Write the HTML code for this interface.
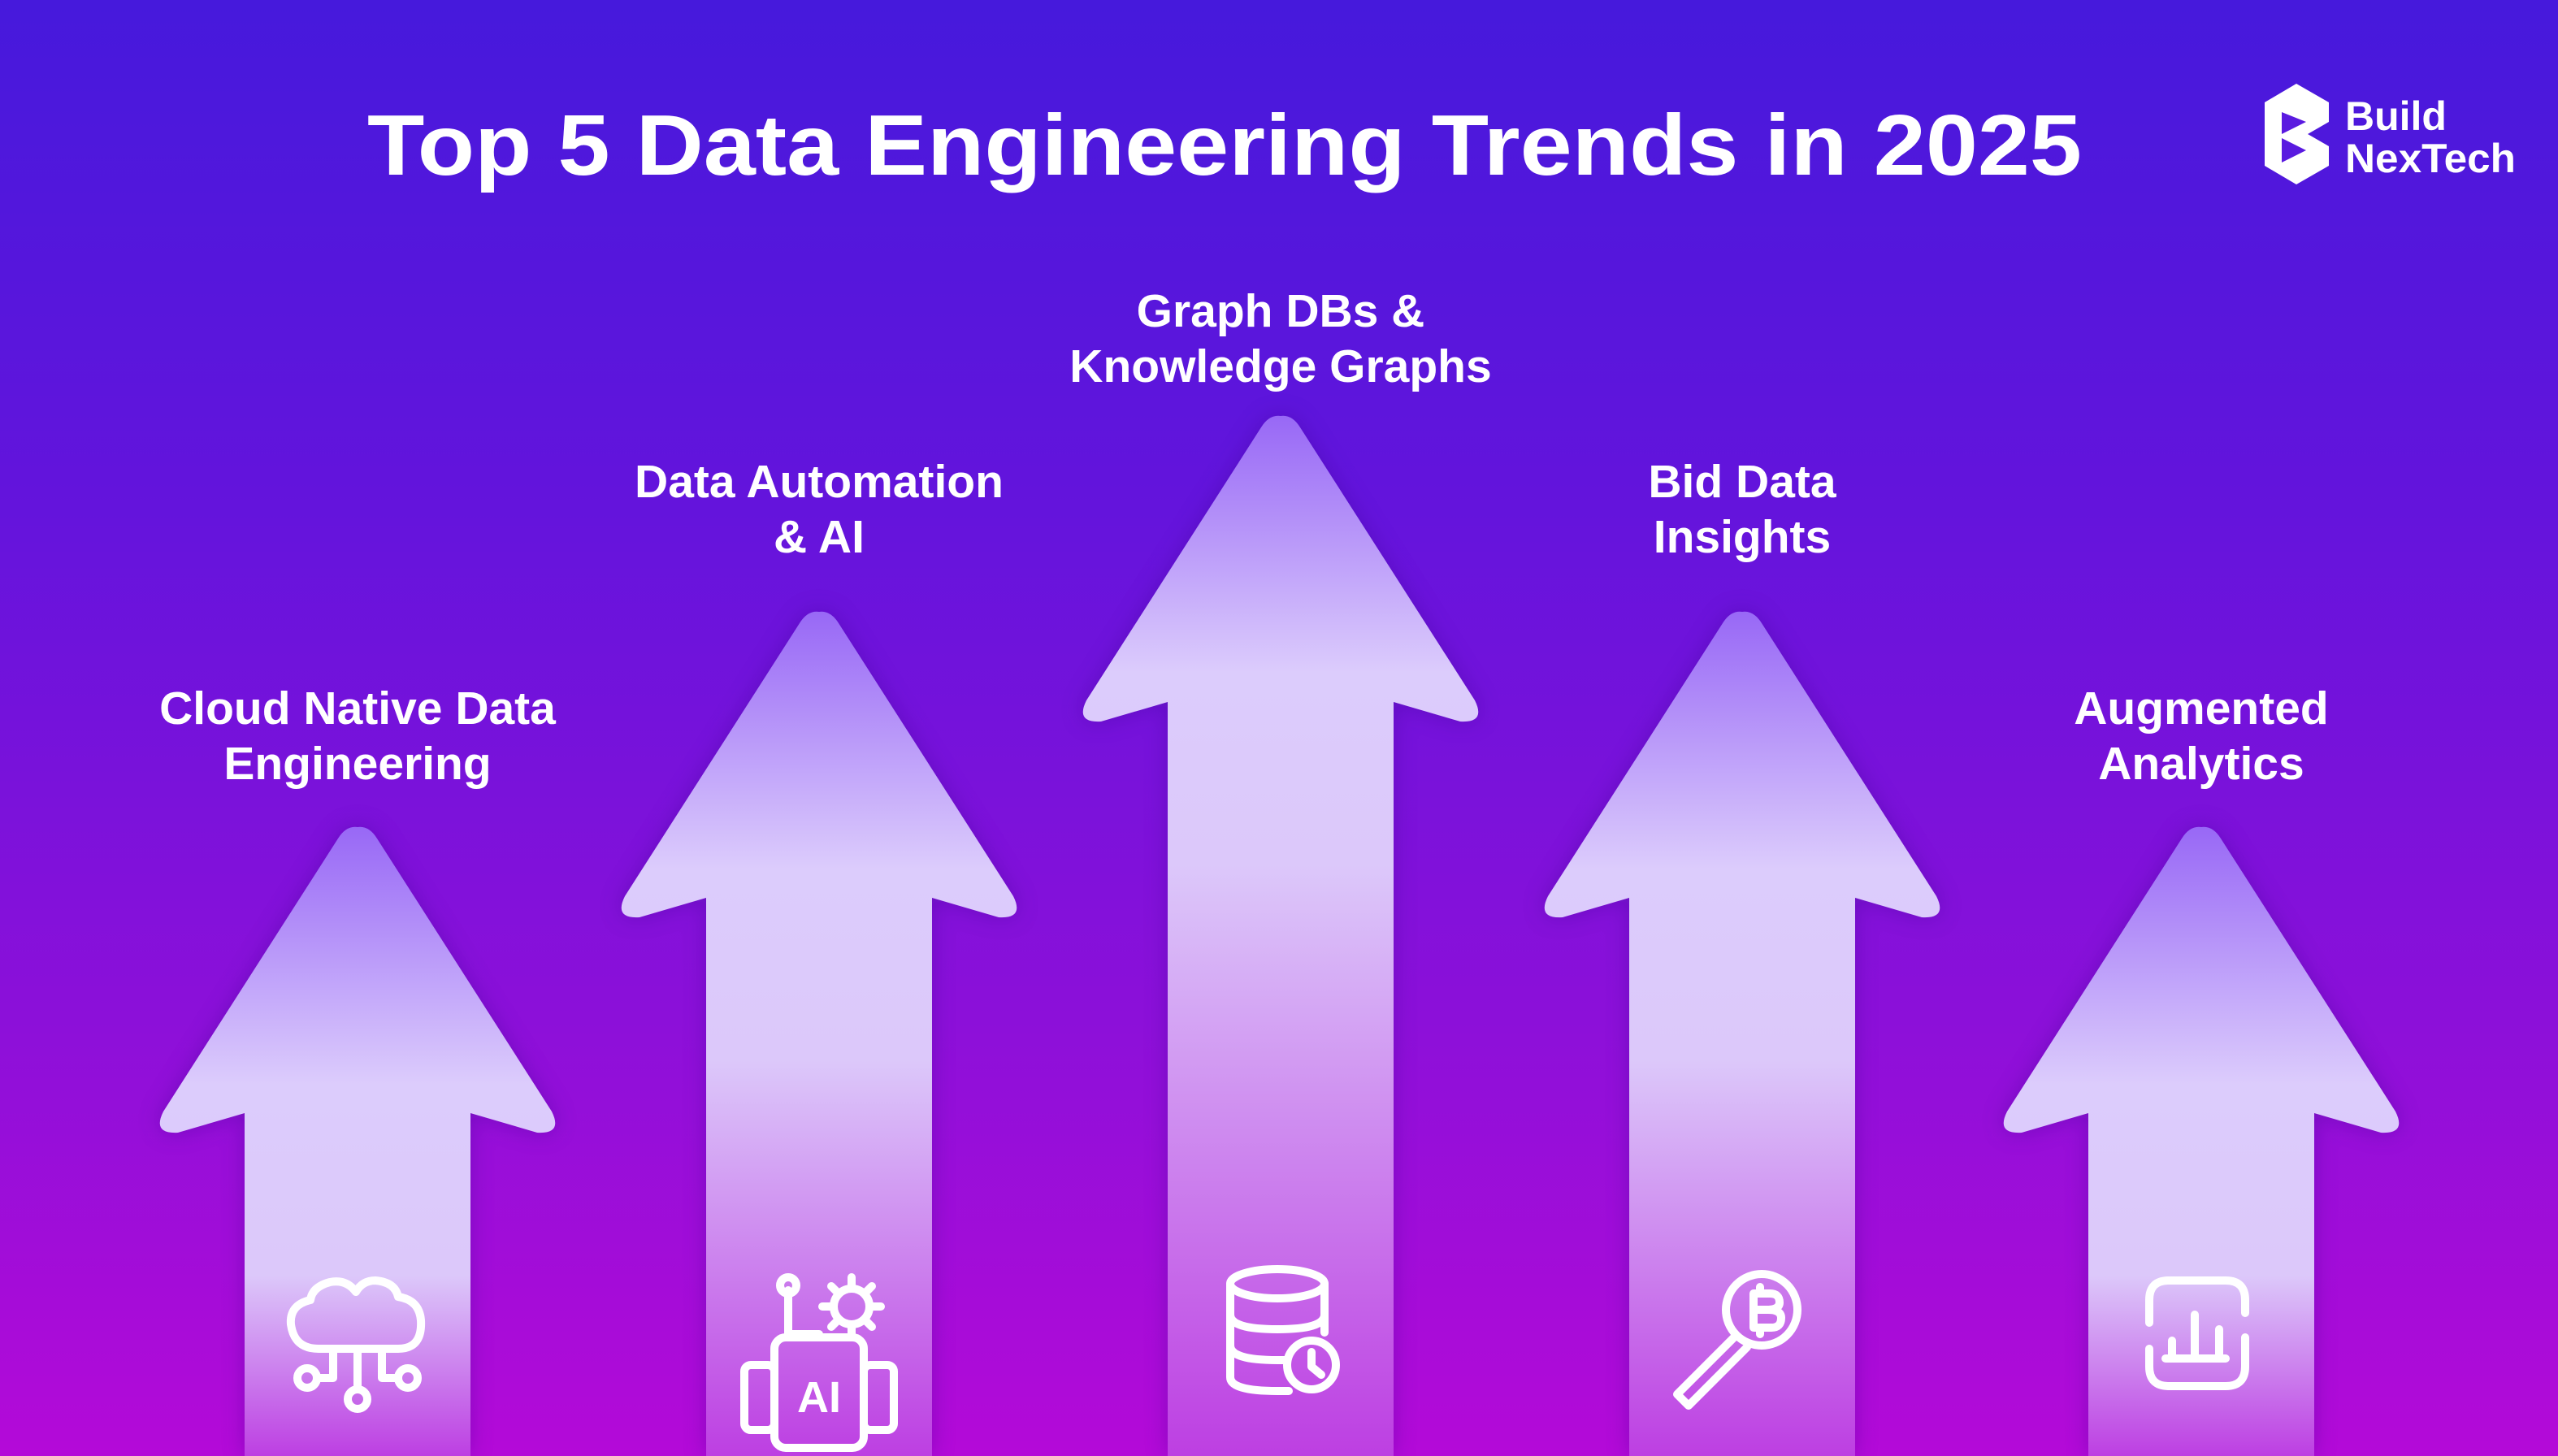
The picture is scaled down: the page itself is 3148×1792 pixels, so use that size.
<!DOCTYPE html>
<html><head><meta charset="utf-8">
<style>
html,body{margin:0;padding:0;width:3148px;height:1792px;overflow:hidden;}
svg{display:block;font-family:"Liberation Sans",sans-serif;}
</style></head>
<body>
<svg id="chart" width="3148" height="1792" viewBox="0 0 3148 1792" xmlns="http://www.w3.org/2000/svg">
<defs>
<linearGradient id="bg" x1="0" y1="0" x2="0" y2="1">
<stop offset="0" stop-color="#4619dc"/>
<stop offset="0.35" stop-color="#6414dc"/>
<stop offset="0.7" stop-color="#8c10d9"/>
<stop offset="1" stop-color="#b40ad8"/>
</linearGradient>
<filter id="sh" x="-20%" y="-20%" width="140%" height="140%"><feGaussianBlur stdDeviation="14"/></filter>
</defs>
<rect width="3148" height="1792" fill="url(#bg)"/>
<text x="1507" y="215" text-anchor="middle" font-size="106" font-weight="700" fill="#fff" textLength="2110" lengthAdjust="spacingAndGlyphs">Top 5 Data Engineering Trends in 2025</text>
<g>
<path d="M2826 103 L2866 126 L2866 150 L2840 165 L2866 180 L2866 204 L2826 227 L2787 204 L2787 126 Z" fill="#fff"/>
<path d="M2808 138 L2838 150 L2808 165 Z M2808 170 L2838 185 L2808 200 Z" fill="#5a1ae0"/>
<text x="2886" y="160" font-size="50" font-weight="700" fill="#fff">Build</text>
<text x="2886" y="212" font-size="50" font-weight="700" fill="#fff" textLength="210" lengthAdjust="spacingAndGlyphs">NexTech</text>
</g>
<g id="arrows"></g>
</svg>
<script>
const labels1 = ["Cloud Native Data","Data Automation","Graph DBs &","Bid Data","Augmented"];
const labels2 = ["Engineering","& AI","Knowledge Graphs","Insights","Analytics"];
const heights = [1018, 753, 512, 753, 1018];
const centers = [440, 1008, 1576, 2144, 2709];
const labelOffsets = [127, 141, 110, 141, 127];
const NS = "http://www.w3.org/2000/svg";
const g = document.getElementById('arrows');
const defs = document.querySelector('defs');
function mk(tag, attrs, parent){const e=document.createElementNS(NS,tag);for(const k in attrs)e.setAttribute(k,attrs[k]);parent.appendChild(e);return e;}
centers.forEach((cx,i)=>{
  const top = heights[i];
  const headH = 352, wing = 245, shaft = 139;
  const gid = 'ag'+i;
  const lg = mk('linearGradient',{id:gid,x1:0,y1:top,x2:0,y2:1792,gradientUnits:'userSpaceOnUse'},defs);
  mk('stop',{offset:0,'stop-color':'#9868f6'},lg);
  mk('stop',{offset:(headH*0.9/(1792-top)).toFixed(3),'stop-color':'#dcccfc'},lg);
  mk('stop',{offset:((headH+200)/(1792-top)).toFixed(3),'stop-color':'#dcc8fa'},lg);
  mk('stop',{offset:1,'stop-color':'#bd3fe2'},lg);
  const hb = top+headH;
  const d = `M${cx} ${top} Q${cx+14} ${top-2} ${cx+24} ${top+14} L${cx+wing-6} ${hb-2} Q${cx+wing+8} ${hb+26} ${cx+wing-24} ${hb+24} L${cx+shaft} ${hb} L${cx+shaft} 1792 L${cx-shaft} 1792 L${cx-shaft} ${hb} L${cx-wing+24} ${hb+24} Q${cx-wing-8} ${hb+26} ${cx-wing+6} ${hb-2} L${cx-24} ${top+14} Q${cx-14} ${top-2} ${cx} ${top} Z`;
  const s = mk('path',{d:d,fill:'#3a0890',opacity:0.35,filter:'url(#sh)'},g);
  
  
  const a = mk('path',{d:d,fill:'url(#'+gid+')'},g);
  
  
  const off = labelOffsets[i];
  const t1 = mk('text',{x:cx,y:top-off,'text-anchor':'middle','font-size':57,'font-weight':700,fill:'#fff'},g);
  t1.textContent = labels1[i];
  
  
  const t2 = mk('text',{x:cx,y:top-off+68,'text-anchor':'middle','font-size':57,'font-weight':700,fill:'#fff'},g);
  t2.textContent = labels2[i];
  
  
});
// icons
const ic = mk('g',{fill:'none',stroke:'#fff','stroke-width':10,'stroke-linecap':'round','stroke-linejoin':'round'},document.getElementById('chart'));


// cloud
let c=centers[0];
mk('path',{d:`M${c-48} 1660 H${c+50} Q${c+80} 1660 ${c+78} 1625 Q${c+76} 1600 ${c+50} 1596 Q${c+46} 1578 ${c+22} 1576 Q${c+6} 1576 ${c-2} 1590 Q${c-14} 1574 ${c-34} 1578 Q${c-56} 1584 ${c-58} 1600 Q${c-84} 1606 ${c-82} 1630 Q${c-78} 1660 ${c-48} 1660 Z`},ic);
mk('path',{d:`M${c} 1660 V1708 M${c-30} 1660 V1696 H${c-48} M${c+30} 1660 V1696 H${c+48}`},ic);
mk('circle',{cx:c-62,cy:1696,r:12},ic);mk('circle',{cx:c+62,cy:1696,r:12},ic);mk('circle',{cx:c,cy:1722,r:12},ic);
// AI
c=centers[1];
mk('rect',{x:c-55,y:1646,width:110,height:136,rx:14},ic);
mk('rect',{x:c-92,y:1680,width:37,height:80,rx:8},ic);
mk('rect',{x:c+55,y:1680,width:37,height:80,rx:8},ic);
mk('path',{d:`M${c-38} 1588 V1642 H${c}`},ic);
mk('circle',{cx:c-38,cy:1582,r:10},ic);
mk('circle',{cx:c+40,cy:1608,r:22},ic);
mk('path',{d:`M${c+40} 1572 V1582 M${c+40} 1634 V1644 M${c+4} 1608 H${c+14} M${c+66} 1608 H${c+76} M${c+15} 1583 L${c+21} 1589 M${c+59} 1627 L${c+65} 1633 M${c+65} 1583 L${c+59} 1589 M${c+21} 1627 L${c+15} 1633`},ic);
const ait = mk('text',{x:c,y:1738,'text-anchor':'middle','font-size':54,'font-weight':700,fill:'#fff',stroke:'none'},ic);
ait.textContent='AI';


// database
c=centers[2];
mk('ellipse',{cx:c-4,cy:1580,rx:58,ry:18},ic);
mk('path',{d:`M${c-62} 1580 V1695 Q${c-62} 1712 ${c-4} 1712 H${c+10} M${c-62} 1618 Q${c-62} 1636 ${c-4} 1636 Q${c+54} 1636 ${c+54} 1618 M${c-62} 1656 Q${c-62} 1674 ${c-4} 1674 H${c+6} M${c+54} 1580 V1640`},ic);
mk('circle',{cx:c+38,cy:1680,r:30},ic);
mk('path',{d:`M${c+38} 1664 V1682 L${c+50} 1692`},ic);
// magnifier bitcoin
c=centers[3];
mk('circle',{cx:c+24,cy:1612,r:44},ic);
mk('path',{d:`M${c-8} 1644 L${c-80} 1716 L${c-66} 1730 L${c+6} 1658`},ic);
mk('path',{d:`M${c+14} 1592 H${c+34} Q${c+46} 1592 ${c+46} 1603 Q${c+46} 1612 ${c+30} 1612 H${c+14} V1592 M${c+14} 1612 V1634 H${c+36} Q${c+48} 1634 ${c+48} 1622 Q${c+48} 1612 ${c+32} 1612 M${c+22} 1584 V1592 M${c+22} 1634 V1642`},ic);
// analytics
c=centers[4];
mk('path',{d:`M${c-40} 1576 H${c+30} Q${c+54} 1576 ${c+54} 1600 V1616 M${c+54} 1646 V1682 Q${c+54} 1706 ${c+30} 1706 H${c-40} Q${c-64} 1706 ${c-64} 1682 V1660 M${c-64} 1628 V1600 Q${c-64} 1576 ${c-40} 1576`},ic);
mk('path',{d:`M${c-36} 1670 V1650 M${c-8} 1670 V1618 M${c+22} 1670 V1636 M${c-44} 1672 H${c+30}`},ic);
</script>
</body></html>
